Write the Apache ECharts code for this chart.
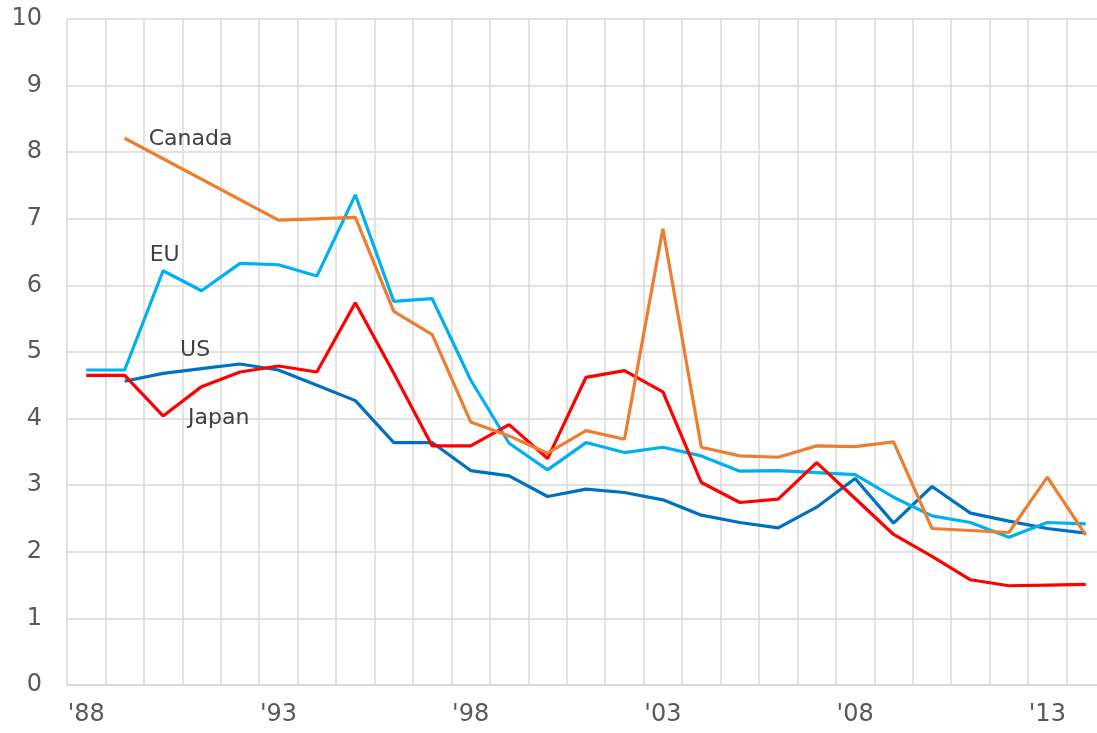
<!DOCTYPE html>
<html>
<head>
<meta charset="utf-8">
<script src="https://cdn.jsdelivr.net/npm/echarts@6/dist/echarts.min.js"></script>
<style>
  html, body { margin: 0; padding: 0; background: #fff; }
  #chart { width: 1097px; height: 733px; }
</style>
</head>
<body>
<div id="chart"></div>
<script>
// years 1988..2014
const years = ['1988', '1989', '1990', '1991', '1992', '1993', '1994', '1995', '1996', '1997',
  '1998', '1999', '2000', '2001', '2002', '2003', '2004', '2005', '2006', '2007',
  '2008', '2009', '2010', '2011', '2012', '2013', '2014'];

const us = [null, 4.56, 4.68, 4.75, 4.82, 4.73, 4.50, 4.27, 3.64, 3.64,
  3.22, 3.14, 2.83, 2.94, 2.89, 2.78, 2.55, 2.44, 2.36, 2.67,
  3.10, 2.43, 2.98, 2.58, 2.46, 2.35, 2.28];

const eu = [4.73, 4.73, 6.22, 5.92, 6.33, 6.31, 6.14, 7.36, 5.76, 5.80,
  4.58, 3.63, 3.23, 3.64, 3.49, 3.57, 3.44, 3.21, 3.22, 3.19,
  3.16, 2.82, 2.54, 2.44, 2.22, 2.44, 2.42];

const japan = [4.65, 4.65, 4.04, 4.48, 4.70, 4.79, 4.70, 5.74, 4.68, 3.59,
  3.59, 3.91, 3.40, 4.62, 4.72, 4.40, 3.04, 2.74, 2.79, 3.34,
  2.80, 2.26, 1.93, 1.58, 1.49, 1.50, 1.51];

// Canada has no values for 1990-1992; the line is drawn straight across the gap
const canada = [null, 8.21, null, null, null, 6.98, 7.00, 7.02, 5.61, 5.26,
  3.95, 3.74, 3.48, 3.82, 3.69, 6.85, 3.57, 3.44, 3.42, 3.59,
  3.58, 3.65, 2.35, 2.32, 2.29, 3.12, 2.25];

const gridColor = '#d9d9d9';
const fontFamily = 'DejaVu Sans, Verdana, sans-serif';

const chart = echarts.init(document.getElementById('chart'));

// label next to a line, anchored to a data coordinate
function seriesLabel(name, year, value, dx) {
  return {
    symbol: 'circle',
    symbolSize: 0,
    silent: true,
    data: [{
      coord: [year, value],
      label: {
        show: true,
        formatter: name,
        position: 'right',
        distance: dx,
        color: '#404040',
        fontSize: 22,
        fontFamily: fontFamily
      }
    }]
  };
}

function lineSeries(name, data, color, labelPos) {
  return {
    name: name,
    type: 'line',
    data: data,
    showSymbol: false,
    connectNulls: true,
    animation: false,
    lineStyle: { color: color, width: 3.2 },
    itemStyle: { color: color },
    markPoint: seriesLabel(name, labelPos[0], labelPos[1], labelPos[2])
  };
}

chart.setOption({
  animation: false,
  grid: { left: 67, top: 19, width: 1038, height: 666, outerBoundsMode: 'none' },
  xAxis: {
    type: 'category',
    data: years,
    boundaryGap: true,
    axisTick: { show: false },
    axisLine: { lineStyle: { color: gridColor, width: 1.5 } },
    splitLine: { show: true, interval: 0, lineStyle: { color: gridColor, width: 1.5 } },
    axisLabel: {
      interval: 4,
      formatter: v => "'" + v.slice(2),
      color: '#595959',
      fontSize: 24,
      fontFamily: fontFamily,
      margin: 18
    }
  },
  yAxis: {
    type: 'value',
    min: 0,
    max: 10,
    interval: 1,
    axisLine: { show: false },
    axisTick: { show: false },
    splitLine: { lineStyle: { color: gridColor, width: 1.5 } },
    axisLabel: {
      color: '#595959',
      fontSize: 24,
      fontFamily: fontFamily,
      margin: 25
    }
  },
  series: [
    lineSeries('US', us, '#0070C0', ['1990', 5.03, 17]),
    lineSeries('EU', eu, '#00B0F0', ['1989', 6.45, 25]),
    lineSeries('Japan', japan, '#FF0000', ['1990', 4.0, 25]),
    lineSeries('Canada', canada, '#ED7D31', ['1989', 8.2, 24])
  ]
});
</script>
</body>
</html>
